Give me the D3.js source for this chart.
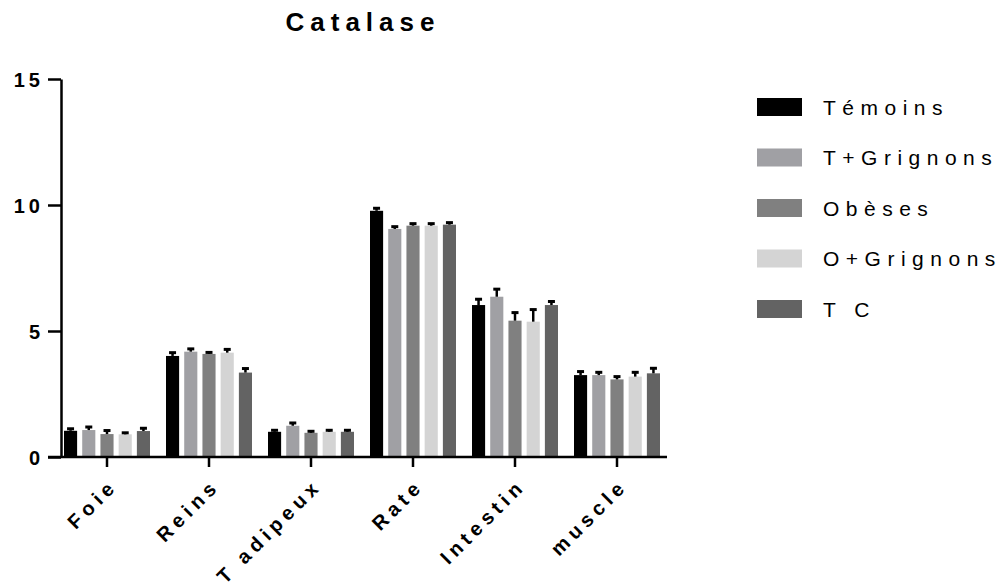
<!DOCTYPE html>
<html>
<head>
<meta charset="utf-8">
<script src="https://cdn.jsdelivr.net/npm/d3@7"></script>
<style>
  html, body { margin: 0; padding: 0; background: #fff; }
  svg { display: block; font-family: "Liberation Sans", Arial, sans-serif; }
</style>
</head>
<body>
<svg id="chart" width="1002" height="588"></svg>
<script>
// Catalase activity per tissue, five groups (mean + SEM)
const tissues = ["Foie", "Reins", "T adipeux", "Rate", "Intestin", "muscle"];
const groups = ["Témoins", "T+Grignons", "Obèses", "O+Grignons", "T C"];
const colors = ["#000000", "#a0a0a4", "#808080", "#d4d4d4", "#636363"];

const temoins    = [1.04, 4.01, 1.00, 9.77, 6.03, 3.25];
const tGrignons  = [1.07, 4.18, 1.24, 9.05, 6.36, 3.25];
const obeses     = [0.91, 4.09, 0.96, 9.18, 5.41, 3.08];
const oGrignons  = [0.90, 4.14, 1.00, 9.18, 5.37, 3.19];
const tc         = [1.03, 3.35, 1.00, 9.22, 6.03, 3.32];

const temoinsErr   = [0.10, 0.15, 0.08, 0.12, 0.25, 0.16];
const tGrignonsErr = [0.14, 0.13, 0.13, 0.11, 0.32, 0.13];
const obesesErr    = [0.16, 0.08, 0.08, 0.10, 0.34, 0.13];
const oGrignonsErr = [0.08, 0.15, 0.08, 0.10, 0.50, 0.19];
const tcErr        = [0.13, 0.18, 0.08, 0.10, 0.16, 0.22];

const yTicks = [0, 5, 10, 15];

const seriesValues = [temoins, tGrignons, obeses, oGrignons, tc];
const seriesErrors = [temoinsErr, tGrignonsErr, obesesErr, oGrignonsErr, tcErr];

const svg = d3.select("#chart");

const x0 = d3.scaleBand().domain(tissues).range([56, 668]).padding(0);
const x1 = d3.scaleBand().domain(groups).range([-43, 43]).paddingInner(0.28).paddingOuter(0);
const y = d3.scaleLinear().domain([0, 15]).range([457, 79]);

// Title
const titleLS = 6;
svg.append("text")
  .attr("x", 360 + titleLS / 2).attr("y", 31)
  .attr("text-anchor", "middle")
  .style("font-size", "26px").style("font-weight", "bold")
  .style("letter-spacing", titleLS + "px")
  .text("Catalase");

// Bars and error bars
const rows = [];
tissues.forEach((t, i) => {
  groups.forEach((g, j) => {
    rows.push({ tissue: t, group: g, value: seriesValues[j][i], err: seriesErrors[j][i], color: colors[j] });
  });
});
const cx = d => x0(d.tissue) + x0.bandwidth() / 2 + x1(d.group) + x1.bandwidth() / 2;

const plot = svg.append("g");
plot.selectAll("rect.bar").data(rows).join("rect")
  .attr("class", "bar")
  .attr("x", d => x0(d.tissue) + x0.bandwidth() / 2 + x1(d.group))
  .attr("width", x1.bandwidth())
  .attr("y", d => y(d.value))
  .attr("height", d => y(0) - y(d.value))
  .attr("fill", d => d.color);

const eb = plot.selectAll("g.err").data(rows).join("g").attr("class", "err");
eb.append("line")
  .attr("x1", cx).attr("x2", cx)
  .attr("y1", d => y(d.value))
  .attr("y2", d => y(d.value + d.err))
  .attr("stroke", "#000").attr("stroke-width", 2.5);
eb.append("line")
  .attr("x1", d => cx(d) - 3.5)
  .attr("x2", d => cx(d) + 3.5)
  .attr("y1", d => y(d.value + d.err) + 0.5)
  .attr("y2", d => y(d.value + d.err) + 0.5)
  .attr("stroke", "#000").attr("stroke-width", 3);

// Y axis
const yLS = 4;
const yAxis = svg.append("g").attr("transform", "translate(61,0)")
  .call(d3.axisLeft(y).tickValues(yTicks).tickSize(13).tickPadding(8).tickSizeOuter(0));
yAxis.select(".domain").attr("stroke", "#000").attr("stroke-width", 2.5);
yAxis.selectAll(".tick line").attr("stroke", "#000").attr("stroke-width", 2.5);
yAxis.selectAll(".tick text")
  .attr("dx", yLS)
  .attr("dy", "0.36em")
  .style("font-size", "20px").style("font-weight", "bold")
  .style("letter-spacing", yLS + "px").attr("fill", "#000");

// X axis
const xLS = 5;
const xAxis = svg.append("g").attr("transform", "translate(0,457)")
  .call(d3.axisBottom(x0).tickSize(10).tickSizeOuter(0).tickPadding(6));
xAxis.select(".domain").attr("stroke", "#000").attr("stroke-width", 2.5)
  .attr("d", "M48,0H667");
xAxis.selectAll(".tick line").attr("stroke", "#000").attr("stroke-width", 2.5);
xAxis.selectAll(".tick text")
  .attr("text-anchor", "end")
  .attr("dy", 0)
  .attr("y", 0)
  .attr("transform", "translate(12,30) rotate(-45)")
  .style("font-size", "20px").style("font-weight", "bold")
  .style("letter-spacing", xLS + "px").attr("fill", "#000");

// Legend
const legend = svg.append("g");
const ly = d3.scalePoint().domain(groups).range([107, 309]);
const items = legend.selectAll("g").data(groups).join("g")
  .attr("transform", d => `translate(757,${ly(d)})`);
items.append("rect")
  .attr("x", 0).attr("y", -9).attr("width", 45).attr("height", 18)
  .attr("fill", (d, i) => colors[i]);
items.append("text")
  .attr("x", 66).attr("y", 0).attr("dy", "0.36em")
  .style("font-size", "21px")
  .style("letter-spacing", "6.5px")
  .attr("fill", "#000")
  .text(d => d);
</script>
</body>
</html>
